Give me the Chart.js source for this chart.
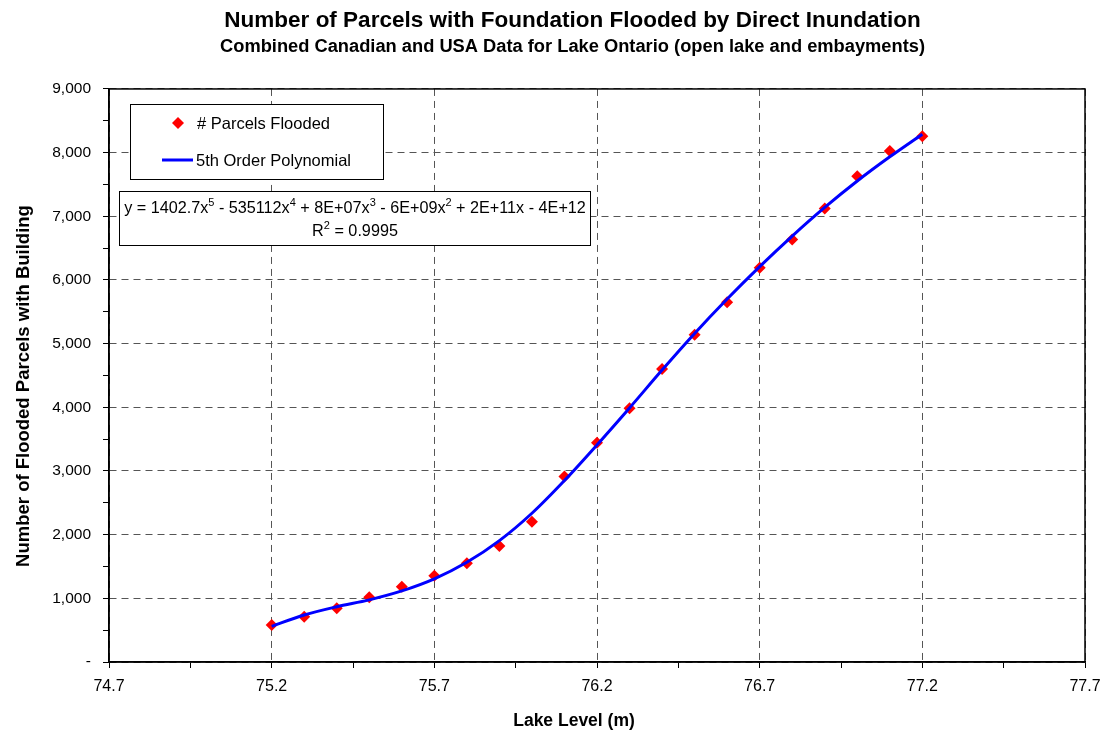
<!DOCTYPE html>
<html>
<head>
<meta charset="utf-8">
<script src="https://cdn.jsdelivr.net/npm/chart.js@4.4.1/dist/chart.umd.min.js"></script>
<style>
  html, body { margin: 0; padding: 0; background: #fff; }
  #wrap { width: 1105px; height: 730px; }
</style>
</head>
<body>
<div id="wrap"><canvas id="chart" width="1105" height="730"></canvas></div>
<script>
// lake level (m) and counts
const lakeLevels = [75.2, 75.3, 75.4, 75.5, 75.6, 75.7, 75.8, 75.9, 76.0, 76.1, 76.2,
  76.3, 76.4, 76.5, 76.6, 76.7, 76.8, 76.9, 77.0, 77.1, 77.2];
const parcelsFlooded = [581, 711, 843, 1016, 1182, 1355, 1549, 1821, 2203, 2915, 3443,
  3987, 4600, 5138, 5651, 6193, 6636, 7122, 7630, 8027, 8257];
// trend line
const polyFit = [560, 738, 868, 976, 1116, 1306, 1566, 1906, 2336, 2850, 3410,
  3990, 4585, 5160, 5700, 6210, 6690, 7140, 7555, 7935, 8290];

const xMajorTicks = [74.7, 75.2, 75.7, 76.2, 76.7, 77.2, 77.7];
const xMinorTicks = [74.95, 75.45, 75.95, 76.45, 76.95, 77.45];

const xTitle = 'Lake Level (m)';
const yTitle = 'Number of Flooded Parcels with Building';

const FONT = 'Arial, "Liberation Sans", sans-serif';

const isMajorX = v => xMajorTicks.some(m => Math.abs(m - v) < 1e-6);

// legend + equation boxes inside the plot, axis titles, and the full frame
const boxesPlugin = {
  id: 'boxes',
  afterDraw(chart) {
    const ctx = chart.ctx;
    const a = chart.chartArea;
    ctx.save();
    ctx.strokeStyle = '#000';
    ctx.lineWidth = 1.5;
    ctx.strokeRect(a.left, a.top, a.right - a.left, a.bottom - a.top);

    // axis titles (Excel places them off the plot centre)
    ctx.fillStyle = '#000';
    ctx.textAlign = 'center';
    ctx.textBaseline = 'middle';
    ctx.font = 'bold 17.5px ' + FONT;
    ctx.fillText(xTitle, 574, 721);
    ctx.save();
    ctx.translate(24, 386);
    ctx.rotate(-Math.PI / 2);
    ctx.font = 'bold 18.5px ' + FONT;
    ctx.fillText(yTitle, 0, 0);
    ctx.restore();

    // legend box
    ctx.fillStyle = '#fff';
    ctx.lineWidth = 1;
    ctx.fillRect(130, 104, 253, 75);
    ctx.strokeRect(130.5, 104.5, 253, 75);
    ctx.fillStyle = '#ff0000';
    ctx.beginPath();
    ctx.moveTo(178, 117); ctx.lineTo(184, 123); ctx.lineTo(178, 129); ctx.lineTo(172, 123);
    ctx.closePath(); ctx.fill();
    ctx.strokeStyle = '#0000ff';
    ctx.lineWidth = 3;
    ctx.beginPath(); ctx.moveTo(162, 160); ctx.lineTo(193, 160); ctx.stroke();
    ctx.fillStyle = '#000';
    ctx.font = '16.5px ' + FONT;
    ctx.textBaseline = 'middle';
    ctx.textAlign = 'left';
    ctx.fillText('# Parcels Flooded', 197, 124);
    ctx.fillText('5th Order Polynomial', 196, 161);

    // equation box
    ctx.fillStyle = '#fff';
    ctx.fillRect(119, 191, 471, 54);
    ctx.strokeStyle = '#000';
    ctx.lineWidth = 1;
    ctx.strokeRect(119.5, 191.5, 471, 54);
    const eq = [['y = 1402.7x'], ['5', 1], [' - 535112x'], ['4', 1], [' + 8E+07x'], ['3', 1],
      [' - 6E+09x'], ['2', 1], [' + 2E+11x - 4E+12']];
    drawRich(ctx, eq, 355, 209);
    drawRich(ctx, [['R'], ['2', 1], [' = 0.9995']], 355, 232);
    ctx.restore();
  }
};

function drawRich(ctx, parts, cx, cy) {
  const norm = '16.2px ' + FONT, sup = '11px ' + FONT;
  let w = 0;
  parts.forEach(p => { ctx.font = p[1] ? sup : norm; w += ctx.measureText(p[0]).width; });
  let x = cx - w / 2;
  ctx.fillStyle = '#000';
  ctx.textAlign = 'left';
  ctx.textBaseline = 'middle';
  parts.forEach(p => {
    ctx.font = p[1] ? sup : norm;
    ctx.fillText(p[0], x, p[1] ? cy - 6 : cy);
    x += ctx.measureText(p[0]).width;
  });
}

new Chart(document.getElementById('chart'), {
  type: 'scatter',
  data: {
    datasets: [
      {
        label: '# Parcels Flooded',
        data: lakeLevels.map((x, i) => ({ x, y: parcelsFlooded[i] })),
        pointStyle: 'rectRot',
        pointRadius: 6,
        backgroundColor: '#ff0000',
        borderColor: '#ff0000',
        borderWidth: 0,
        order: 2
      },
      {
        label: '5th Order Polynomial',
        data: lakeLevels.map((x, i) => ({ x, y: polyFit[i] })),
        showLine: true,
        pointRadius: 0,
        borderColor: '#0000ff',
        borderWidth: 3,
        cubicInterpolationMode: 'monotone',
        order: 1
      }
    ]
  },
  options: {
    responsive: false,
    animation: false,
    layout: { padding: { left: 40, right: 0, top: 0, bottom: 0 } },
    plugins: {
      legend: { display: false },
      tooltip: { enabled: false },
      title: {
        display: true,
        text: 'Number of Parcels with Foundation Flooded by Direct Inundation',
        color: '#000',
        font: { family: FONT, size: 22.5, weight: 'bold' },
        padding: { top: 7, bottom: 0 }
      },
      subtitle: {
        display: true,
        text: 'Combined Canadian and USA Data for Lake Ontario (open lake and embayments)',
        color: '#000',
        font: { family: FONT, size: 18.3, weight: 'bold' },
        padding: { top: 2, bottom: 31 }
      }
    },
    scales: {
      x: {
        type: 'linear',
        min: 74.7,
        max: 77.7,
        afterBuildTicks: axis => {
          axis.ticks = xMajorTicks.concat(xMinorTicks).sort((a, b) => a - b).map(value => ({ value }));
        },
        afterFit: axis => {
          axis.height = 68;
          axis.paddingLeft = 0;
          axis.paddingRight = 0;
        },
        ticks: {
          autoSkip: false,
          maxRotation: 0,
          padding: 9,
          color: '#000',
          font: { family: FONT, size: 16 },
          callback: v => isMajorX(v) ? v.toFixed(1) : ''
        },
        grid: {
          color: ctx => (ctx.tick && isMajorX(ctx.tick.value)) ? '#555' : 'rgba(0,0,0,0)',
          tickColor: '#000',
          tickLength: 6,
          lineWidth: 1
        },
        border: { color: '#000', width: 1.5, dash: [7, 5] }
      },
      y: {
        min: 0,
        max: 9000,
        afterFit: axis => {
          axis.width = 69;
          axis.paddingTop = 0;
          axis.paddingBottom = 0;
        },
        ticks: {
          stepSize: 500,
          autoSkip: false,
          padding: 12,
          color: '#000',
          font: { family: FONT, size: 15.5 },
          callback: v => v % 1000 !== 0 ? '' : (v === 0 ? '-' : v.toLocaleString('en-US'))
        },
        grid: {
          color: ctx => (ctx.tick && ctx.tick.value % 1000 === 0) ? '#555' : 'rgba(0,0,0,0)',
          tickColor: '#000',
          tickLength: 6,
          lineWidth: 1
        },
        border: { color: '#000', width: 1.5, dash: [7, 5] }
      },
      // empty right-hand strip: keeps the plot's right edge at the same place as the reference
      yRight: {
        position: 'right',
        display: true,
        ticks: { display: false },
        grid: { display: false, drawTicks: false },
        border: { display: false },
        afterFit: axis => {
          axis.width = 20;
          axis.paddingTop = 0;
          axis.paddingBottom = 0;
        }
      }
    }
  },
  plugins: [boxesPlugin]
});
</script>
</body>
</html>
